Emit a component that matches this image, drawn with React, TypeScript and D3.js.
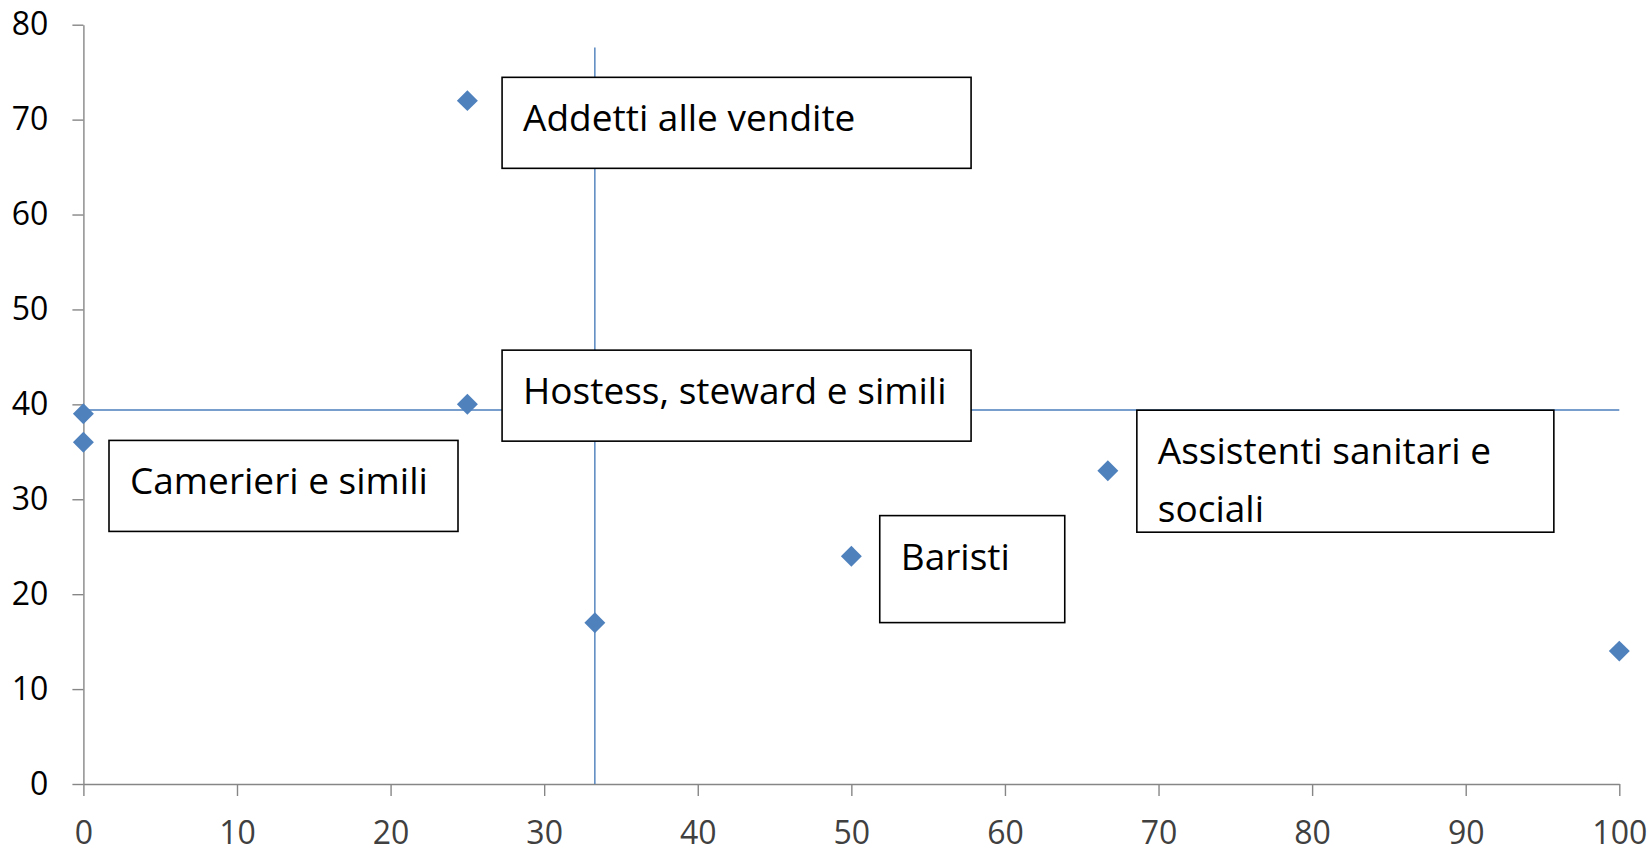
import React, { useEffect, useRef } from "react";
import * as d3 from "d3";

// occupation points (x, y)
const xValues = [0, 0, 25, 25, 33.3, 50, 66.7, 100];
const yValues = [39, 36, 72, 40, 17, 24, 33, 14];
const pointLabels: (string[] | null)[] = [
  null,
  ["Camerieri e simili"],
  ["Addetti alle vendite"],
  ["Hostess, steward e simili"],
  null,
  ["Baristi"],
  ["Assistenti sanitari e", "sociali"],
  null,
];

// reference lines
const vLineX = [33.3, 33.3];
const vLineY = [0, 77.6];
const hLineX = [0, 100];
const hLineY = [39.4, 39.4];

const xTicks = [0, 10, 20, 30, 40, 50, 60, 70, 80, 90, 100];
const yTicks = [0, 10, 20, 30, 40, 50, 60, 70, 80];

// label box placement, pixels relative to the point
const boxLayout: Record<number, { dx: number; dy: number; w: number; h: number }> = {
  1: { dx: 25.6, dy: -1.9, w: 349, h: 91 },
  2: { dx: 34.7, dy: -23.3, w: 469, h: 91 },
  3: { dx: 34.7, dy: -54.2, w: 469, h: 91 },
  5: { dx: 28.4, dy: -40.6, w: 185, h: 107 },
  6: { dx: 29, dy: -60.6, w: 417, h: 122 },
};

const FONT = "'Open Sans', 'Noto Sans', sans-serif";

const ScatterChart = () => {
  const chartRef = useRef<HTMLDivElement>(null);

  useEffect(() => {
    const width = 1650;
    const height = 848;

    const root = d3.select(chartRef.current);
    root.selectAll("*").remove();

    const svg = root
      .append("svg")
      .attr("width", width)
      .attr("height", height)
      .style("position", "absolute")
      .style("left", 0)
      .style("top", 0)
      .style("background", "#fff");

    const xScale = d3.scaleLinear().domain([0, 100]).range([83.4, 1619.3]);
    const yScale = d3.scaleLinear().domain([0, 80]).range([784, 24.7]);

    // axes
    const yAxis = svg
      .append("g")
      .attr("transform", `translate(${xScale(0)},0)`)
      .call(
        d3
          .axisLeft(yScale)
          .tickValues(yTicks)
          .tickSize(11)
          .tickSizeOuter(0)
          .tickPadding(24)
      );
    yAxis.selectAll("path, line").attr("stroke", "#868686").attr("stroke-width", 1.4);
    yAxis
      .selectAll("text")
      .attr("fill", "#000")
      .style("font-family", FONT)
      .style("font-size", "32px");

    const xAxis = svg
      .append("g")
      .attr("transform", `translate(0,${yScale(0)})`)
      .call(
        d3
          .axisBottom(xScale)
          .tickValues(xTicks)
          .tickSize(12)
          .tickSizeOuter(0)
          .tickPadding(25)
      );
    xAxis.selectAll("path, line").attr("stroke", "#868686").attr("stroke-width", 1.4);
    xAxis
      .selectAll("text")
      .attr("fill", "#404040")
      .style("font-family", FONT)
      .style("font-size", "32px");

    // reference lines
    const refLine = d3
      .line<[number, number]>()
      .x((d) => xScale(d[0]))
      .y((d) => yScale(d[1]));

    svg
      .append("path")
      .attr("d", refLine(vLineX.map((x, i) => [x, vLineY[i]] as [number, number])))
      .attr("fill", "none")
      .attr("stroke", "#4a7ebb")
      .attr("stroke-width", 1.4);

    svg
      .append("path")
      .attr("d", refLine(hLineX.map((x, i) => [x, hLineY[i]] as [number, number])))
      .attr("fill", "none")
      .attr("stroke", "#4a7ebb")
      .attr("stroke-width", 1.4);

    // points
    const points = xValues.map((x, i) => ({ x, y: yValues[i], label: pointLabels[i], i }));
    const diamond = d3.symbol().type(d3.symbolSquare).size(220);

    svg
      .selectAll(".pt")
      .data(points)
      .enter()
      .append("path")
      .attr("class", "pt")
      .attr("d", diamond)
      .attr("transform", (d) => `translate(${xScale(d.x)},${yScale(d.y)}) rotate(45)`)
      .attr("fill", "#4f81bd");

    // label boxes
    const labelled = points.filter((d) => d.label && boxLayout[d.i]);
    const boxes = svg
      .selectAll(".box")
      .data(labelled)
      .enter()
      .append("g")
      .attr("class", "box")
      .attr("transform", (d) => {
        const b = boxLayout[d.i];
        return `translate(${xScale(d.x) + b.dx},${yScale(d.y) + b.dy})`;
      });

    boxes
      .append("rect")
      .attr("width", (d) => boxLayout[d.i].w)
      .attr("height", (d) => boxLayout[d.i].h)
      .attr("fill", "#fff")
      .attr("stroke", "#000")
      .attr("stroke-width", 1.6);

    boxes
      .selectAll("text")
      .data((d) => d.label as string[])
      .enter()
      .append("text")
      .attr("x", 21)
      .attr("y", (_, k) => 54 + k * 57.7)
      .attr("fill", "#000")
      .style("font-family", FONT)
      .style("font-size", "37px")
      .text((t) => t);
  }, []);

  return <div ref={chartRef} />;
};

export default function App() {
  return <ScatterChart />;
}
